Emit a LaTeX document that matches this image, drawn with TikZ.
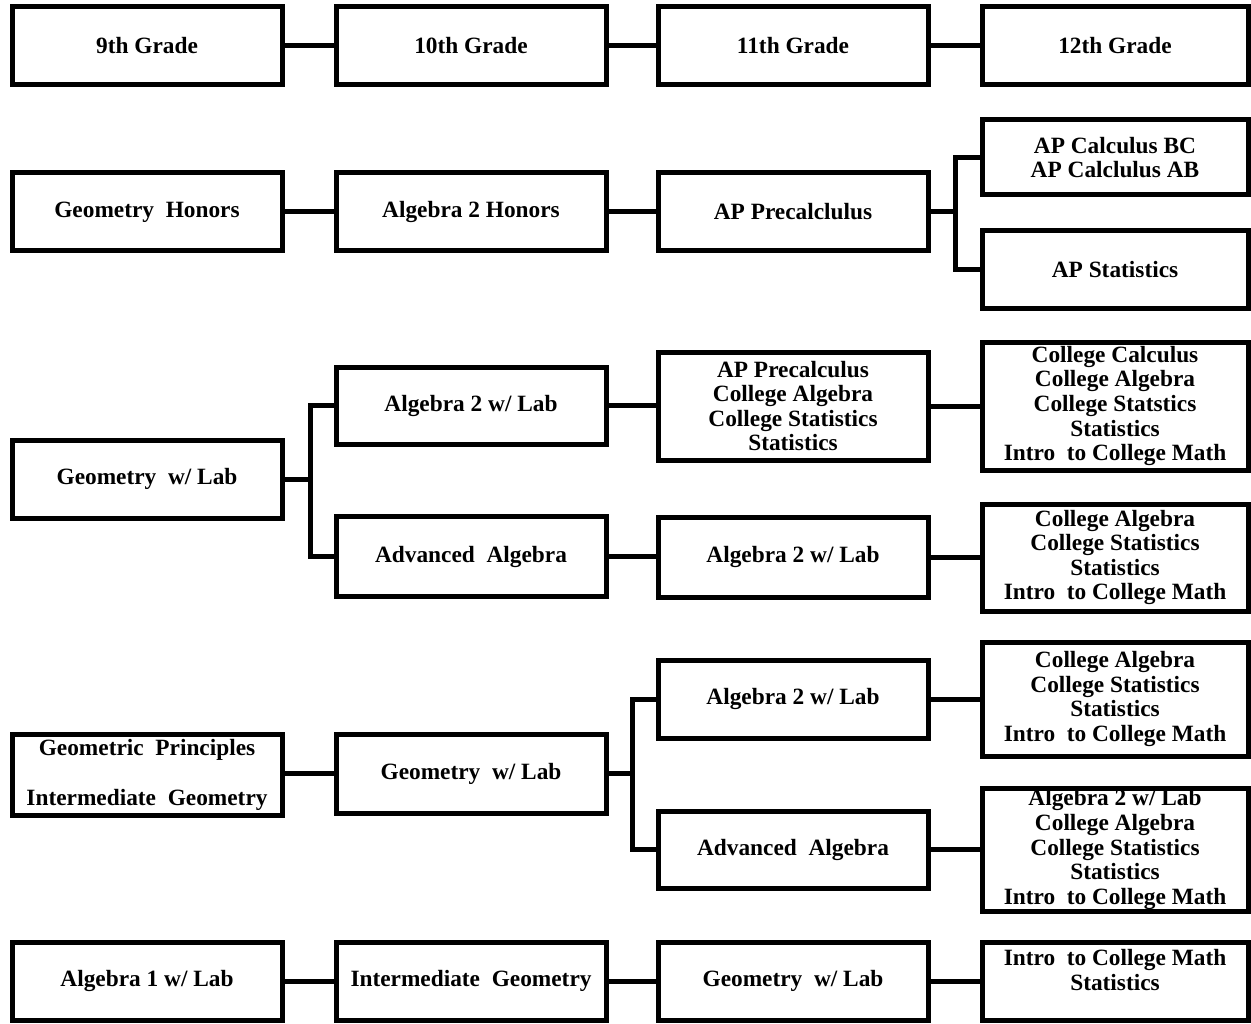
\documentclass[tikz,border=0pt]{standalone}
\usepackage{fontspec}
\setmainfont{Liberation Serif}
\begin{document}
\begin{tikzpicture}[x=0.75pt,y=-0.75pt,
  txt/.style={align=center,inner sep=0pt,font=\fontsize{17.5}{18.4}\selectfont\bfseries},
  box/.style={txt,draw,line width=3.75pt,rectangle,minimum width=202.5pt},
  boxr/.style={box,minimum width=199.5pt},
  conn/.style={line width=3.75pt,line join=miter}]
\useasboundingbox (0,0) rectangle (1251,1023);
% row 1
\node[box,minimum height=58.5pt] (g9) at (147,46) {9th Grade};
\node[box,minimum height=58.5pt] (g10) at (471,46) {10th Grade};
\node[box,minimum height=58.5pt] (g11) at (793,46) {11th Grade};
\node[boxr,minimum height=58.5pt] (g12) at (1115,46) {12th Grade};
\draw[conn] (g9) -- (g10);
\draw[conn] (g10) -- (g11);
\draw[conn] (g11) -- (g12);
% row 2
\node[box,minimum height=58.5pt] (gh) at (147,212) {Geometry~ Honors};
\node[box,minimum height=58.5pt] (a2h) at (471,212) {Algebra 2 Honors};
\node[box,minimum height=58.5pt] (apre) at (793,212) {AP Precalclulus};
\node[boxr,minimum height=56.25pt] (apc) at (1115,157.5) {AP Calculus BC\\AP Calclulus AB};
\node[boxr,minimum height=57.75pt] (apst) at (1115,269.5) {AP Statistics};
\coordinate (b1) at (955,212);
\draw[conn] (gh) -- (a2h);
\draw[conn] (a2h) -- (apre);
\draw[conn] (apre.east) -- (b1);
\draw[conn] (apc.west) -| (b1) |- (apst.west);
% row 3
\node[box,minimum height=58.5pt] (geo3) at (147,479) {Geometry~ w/ Lab};
\node[box,minimum height=57.75pt] (a2l) at (471,405.5) {Algebra 2 w/ Lab};
\node[box,minimum height=60pt] (adv3) at (471,556.5) {Advanced~ Algebra};
\node[box,minimum height=81pt] (apre3) at (793,406) {AP Precalculus\\College Algebra\\College Statistics\\Statistics};
\node[boxr,minimum height=96pt] (cc) at (1115,406) {College Calculus\\College Algebra\\College Statstics\\Statistics\\Intro~ to College Math};
\node[box,minimum height=60pt] (a2l3) at (793,557) {Algebra 2 w/ Lab};
\node[boxr,minimum height=80.25pt] (ca3) at (1115,557.5) {College Algebra\\College Statistics\\Statistics\\Intro~ to College Math};
\coordinate (b2) at (310,479);
\draw[conn] (geo3.east) -- (b2);
\draw[conn] (a2l.west) -| (b2) |- (adv3.west);
\draw[conn] (a2l.east) -- (a2l.east -| apre3.west);
\draw[conn] (apre3.east) -- (apre3.east -| cc.west);
\draw[conn] (adv3.east) -- (adv3.east -| a2l3.west);
\draw[conn] (a2l3.east) -- (a2l3.east -| ca3.west);
% row 4
\node[box,minimum height=60.75pt] (gp) at (147,774.5) {Geometric~ Principles\\[19pt]Intermediate~ Geometry};
\node[box,minimum height=59.25pt] (geo4) at (471,773.5) {Geometry~ w/ Lab};
\node[box,minimum height=58.5pt] (a2l4) at (793,699) {Algebra 2 w/ Lab};
\node[boxr,minimum height=85.5pt] (ca4) at (1115,699) {College Algebra\\College Statistics\\Statistics\\Intro~ to College Math};
\node[box,minimum height=57.75pt] (adv4) at (793,849.5) {Advanced~ Algebra};
\node[boxr,minimum height=92.25pt] (l4) at (1115,849.5) {Algebra 2 w/ Lab\\College Algebra\\College Statistics\\Statistics\\Intro~ to College Math};
\coordinate (b3) at (632,773.5);
\draw[conn] (gp.east |- geo4.west) -- (geo4.west);
\draw[conn] (geo4.east) -- (b3);
\draw[conn] (a2l4.west) -| (b3) |- (adv4.west);
\draw[conn] (a2l4.east) -- (a2l4.east -| ca4.west);
\draw[conn] (adv4.east) -- (adv4.east -| l4.west);
% row 5
\node[box,minimum height=58.5pt] (a1) at (147,981) {Algebra 1 w/ Lab};
\node[box,minimum height=58.5pt] (ig) at (471,981) {Intermediate~ Geometry};
\node[box,minimum height=58.5pt] (geo5) at (793,981) {Geometry~ w/ Lab};
\node[boxr,minimum height=58.5pt] (icm) at (1115,981) {};
\node[txt] (icmtext) at (1115,970) {Intro~ to College Math\\Statistics};
\draw[conn] (a1) -- (ig);
\draw[conn] (ig) -- (geo5);
\draw[conn] (geo5) -- (icm);
\end{tikzpicture}
\end{document}
